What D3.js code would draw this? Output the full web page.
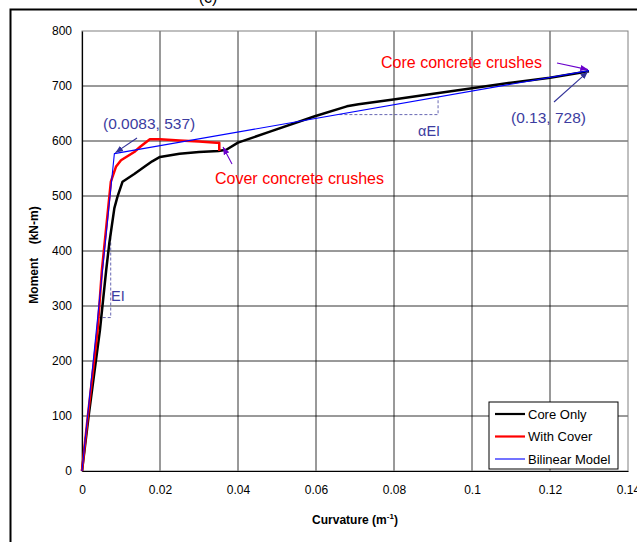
<!DOCTYPE html>
<html>
<head>
<meta charset="utf-8">
<script src="https://cdn.jsdelivr.net/npm/d3@7"></script>
<style>
  body { margin: 0; background: #fff; }
  svg { display: block; font-family: "Liberation Sans", Arial, sans-serif; }
</style>
</head>
<body>
<div id="chart"></div>
<script>
// curvas momento-curvatura
const coreOnly = [
  [0, 0], [0.0017, 100], [0.0046, 256], [0.0062, 365], [0.007, 414],
  [0.0083, 478], [0.0091, 499], [0.0104, 526], [0.0134, 540], [0.016, 553],
  [0.018, 563], [0.020, 571], [0.025, 577], [0.030, 580], [0.035, 582],
  [0.037, 584], [0.040, 597], [0.0482, 617], [0.0597, 645], [0.0679, 663],
  [0.0709, 667], [0.0803, 676], [0.0892, 685], [0.100, 696], [0.110, 706],
  [0.120, 715], [0.130, 727]
];
const withCover = [
  [0, 0], [0.0015, 100], [0.004, 256], [0.0051, 365], [0.0074, 526],
  [0.0087, 553], [0.010, 565], [0.0134, 580], [0.015, 590], [0.0174, 603],
  [0.020, 603], [0.025, 601], [0.030, 599], [0.0345, 597], [0.0352, 597],
  [0.0352, 582]
];
const bilinear = [[0, 0], [0.0083, 577], [0.13, 728]];

const xTicks = [0, 0.02, 0.04, 0.06, 0.08, 0.1, 0.12, 0.14];
const yTicks = [0, 100, 200, 300, 400, 500, 600, 700, 800];

const series = [
  { name: "Core Only", data: coreOnly, color: "#000000", width: 2.5 },
  { name: "With Cover", data: withCover, color: "#ff0000", width: 2.5 },
  { name: "Bilinear Model", data: bilinear, color: "#0000ff", width: 1.1 }
];

const width = 637, height = 542;
const margin = { top: 31, right: 9, bottom: 71, left: 82 };

const svg = d3.select("#chart").append("svg")
  .attr("width", width).attr("height", height);

// marco exterior
svg.append("rect")
  .attr("x", 10.5).attr("y", 9.5)
  .attr("width", 700).attr("height", 700)
  .attr("fill", "none").attr("stroke", "#000").attr("stroke-width", 2);

// título cortado
svg.append("text").attr("x", 208).attr("y", 3)
  .attr("text-anchor", "middle").attr("font-size", 16).text("(c)");

const x = d3.scaleLinear().domain([0, 0.14]).range([margin.left, width - margin.right]);
const y = d3.scaleLinear().domain([0, 800]).range([height - margin.bottom, margin.top]);

// rejilla
svg.append("g").selectAll("line").data(xTicks.slice(1, -1)).join("line")
  .attr("x1", d => x(d)).attr("x2", d => x(d))
  .attr("y1", y(0)).attr("y2", y(800))
  .attr("stroke", "#000").attr("stroke-width", 0.8);
svg.append("g").selectAll("line").data(yTicks.slice(1, -1)).join("line")
  .attr("x1", x(0)).attr("x2", x(0.14))
  .attr("y1", d => y(d)).attr("y2", d => y(d))
  .attr("stroke", "#000").attr("stroke-width", 0.8);

// borde del área
svg.append("rect")
  .attr("x", x(0)).attr("y", y(800))
  .attr("width", x(0.14) - x(0)).attr("height", y(0) - y(800))
  .attr("fill", "none").attr("stroke", "#808080").attr("stroke-width", 1);

// ejes
const xAxis = svg.append("g")
  .attr("transform", `translate(0,${y(0)})`)
  .call(d3.axisBottom(x).tickValues(xTicks).tickSize(0).tickPadding(14)
    .tickFormat(d => d3.format("~g")(d)));
const yAxis = svg.append("g")
  .attr("transform", `translate(${x(0)},0)`)
  .call(d3.axisLeft(y).tickValues(yTicks).tickSize(0).tickPadding(10));
[xAxis, yAxis].forEach(a => {
  a.select(".domain").attr("stroke", "#000").attr("stroke-width", 1.2);
  a.selectAll("text").attr("font-size", 12).attr("fill", "#000")
    .attr("font-family", "'Liberation Sans', Arial, sans-serif");
});

// triángulos de rigidez
const dash = "3,2";
const slate = "#3c3ca0";
const ei = [[0.00403, 279], [0.00736, 279], [0.00736, 440]];
const aei = [[0.066, 648], [0.0913, 648], [0.0913, 680]];
const line = d3.line().x(d => x(d[0])).y(d => y(d[1]));
[ei, aei].forEach(t => {
  svg.append("path").attr("d", line(t)).attr("fill", "none")
    .attr("stroke", "#4040a0").attr("stroke-width", 0.8).attr("stroke-dasharray", dash);
});

// series
series.forEach(s => {
  svg.append("path").datum(s.data).attr("d", line)
    .attr("fill", "none").attr("stroke", s.color)
    .attr("stroke-width", s.width).attr("stroke-linejoin", "round");
});

// flechas
const defs = svg.append("defs");
function marker(id, color) {
  defs.append("marker").attr("id", id)
    .attr("viewBox", "0 0 10 10").attr("refX", 10).attr("refY", 5)
    .attr("markerWidth", 7).attr("markerHeight", 7).attr("orient", "auto")
    .append("path").attr("d", "M0,1 L10,5 L0,9 Z").attr("fill", color);
}
marker("flechaAzul", "#333399");
marker("flechaMorada", "#6a00cc");

function flecha(x1, y1, x2, y2, id, color) {
  svg.append("line")
    .attr("x1", x1).attr("y1", y1).attr("x2", x2).attr("y2", y2)
    .attr("stroke", color).attr("stroke-width", 1.1)
    .attr("marker-end", `url(#${id})`);
}
flecha(137, 138, x(0.0083) + 1, y(577) - 1, "flechaAzul", "#333399");
flecha(554, 102, x(0.13) - 1, y(728) + 1, "flechaAzul", "#333399");
flecha(232, 164, 223, 147, "flechaMorada", "#6a00cc");
flecha(557, 63, x(0.13) - 1, y(728) - 1, "flechaMorada", "#6a00cc");

// textos
function texto(tx, ty, str, color, size) {
  return svg.append("text").attr("x", tx).attr("y", ty)
    .attr("fill", color).attr("font-size", size).text(str);
}
texto(103, 129, "(0.0083, 537)", slate, 15.5);
texto(511, 123, "(0.13, 728)", slate, 15.5);
texto(215, 184, "Cover concrete crushes", "#ff0000", 16);
texto(381, 68, "Core concrete crushes", "#ff0000", 16);
texto(418, 136, "αEI", slate, 14.5);
texto(111, 301, "EI", slate, 14.5);

// etiquetas de ejes
const xl = svg.append("text").attr("x", 355).attr("y", 524)
  .attr("text-anchor", "middle").attr("font-size", 12).attr("font-weight", "bold");
xl.append("tspan").text("Curvature (m");
xl.append("tspan").attr("font-size", 8).attr("dy", -5).text("-1");
xl.append("tspan").attr("dy", 5).text(")");

svg.append("text")
  .attr("transform", "translate(38,255) rotate(-90)")
  .attr("text-anchor", "middle").attr("font-size", 12).attr("font-weight", "bold")
  .attr("xml:space", "preserve")
  .text("Moment    (kN-m)");

// leyenda
const lg = svg.append("g").attr("transform", "translate(489,402)");
lg.append("rect").attr("width", 129).attr("height", 67)
  .attr("fill", "#fff").attr("stroke", "#000").attr("stroke-width", 1);
series.forEach((s, i) => {
  const ly = 12 + i * 22.5;
  lg.append("line").attr("x1", 6).attr("x2", 36).attr("y1", ly).attr("y2", ly)
    .attr("stroke", s.color).attr("stroke-width", s.width === 2.5 ? 2.2 : 1.1);
  lg.append("text").attr("x", 39).attr("y", ly + 4.5)
    .attr("font-size", 13).attr("fill", "#000").text(s.name);
});
</script>
</body>
</html>
